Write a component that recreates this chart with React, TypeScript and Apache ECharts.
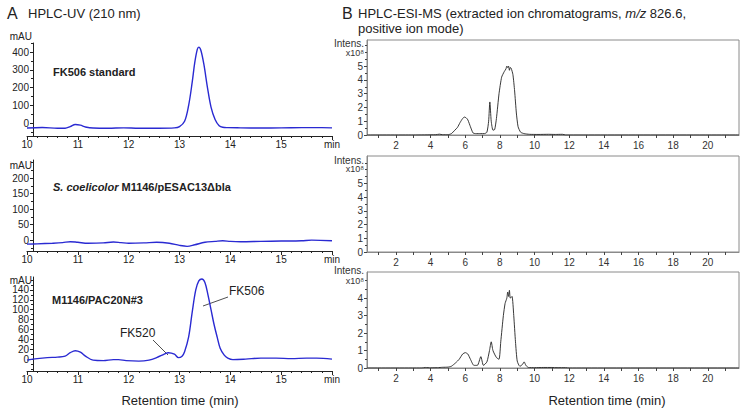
import React, { useEffect, useRef } from "react";
import * as echarts from "echarts";

// ---------- Panel A (HPLC-UV, 210 nm) ----------
const a1Time = [10.0, 10.3, 10.6, 10.75, 10.85, 10.95, 11.05, 11.15, 11.3, 11.6, 11.9, 12.2, 12.6, 12.9, 13.0, 13.1, 13.18, 13.25, 13.3, 13.35, 13.38, 13.42, 13.48, 13.55, 13.62, 13.7, 13.78, 13.85, 13.95, 14.2, 14.6, 15.0, 15.4, 15.8, 16.0];
const a1Abs = [-28, -25, -29, -29, -20, -8, -12, -22, -28, -29, -27, -29, -29, -27, -20, 10, 100, 230, 340, 415, 428, 410, 330, 200, 90, 20, -15, -24, -26, -27, -28, -27, -26, -26, -27];

const a2Time = [10.0, 10.2, 10.5, 10.7, 10.85, 11.0, 11.2, 11.5, 11.7, 11.85, 12.0, 12.3, 12.55, 12.8, 13.0, 13.15, 13.3, 13.5, 13.7, 13.85, 14.0, 14.2, 14.6, 15.0, 15.4, 15.6, 16.0];
const a2Abs = [-13, -12, -10, -8, -5, -7, -10, -9, -6, -8, -10, -9, -7, -10, -17, -20, -15, -7, -4, -2, -4, -5, -4, -3, -2, 0, -2];

const a3Time = [10.0, 10.2, 10.4, 10.6, 10.75, 10.85, 10.95, 11.05, 11.15, 11.3, 11.5, 11.7, 11.8, 11.95, 12.2, 12.4, 12.55, 12.7, 12.78, 12.9, 12.98, 13.05, 13.1, 13.18, 13.25, 13.32, 13.38, 13.44, 13.5, 13.56, 13.62, 13.68, 13.74, 13.8, 13.88, 13.95, 14.05, 14.3, 14.6, 14.9, 15.2, 15.5, 15.7, 16.0];
const a3Abs = [-2, 1, 3, 4, 6, 13, 17, 14, 6, -2, -3, -1, -1, -3, -4, -2, 3, 10, 13, 10, 3, 6, 15, 45, 95, 140, 158, 162, 155, 130, 100, 70, 45, 22, 8, 2, -1, 0, 2, 2, 1, 2, 2, 0];

const a1YLabels = [0, 100, 200, 300, 400];
const a1YMinor = [-50, 50, 150, 250, 350, 450];
const a2YLabels = [0, 50, 100, 150, 200];
const a2YMinor = [-25, 25, 75, 125, 175, 225, 250];
const a3YLabels = [0, 20, 40, 60, 80, 100, 120, 140];
const a3YMinor = [-20, -10, 10, 30, 50, 70, 90, 110, 130, 150, 160];

// ---------- Panel B (HPLC-ESI-MS, EIC m/z 826.6, x10^8) ----------
const b1Time = [0.33, 3.0, 4.3, 4.5, 4.7, 5.0, 5.2, 5.4, 5.55, 5.7, 5.85, 5.95, 6.05, 6.15, 6.3, 6.45, 6.6, 6.9, 7.1, 7.25, 7.35, 7.42, 7.5, 7.6, 7.7, 7.8, 7.95, 8.1, 8.25, 8.35, 8.4, 8.45, 8.5, 8.55, 8.6, 8.65, 8.75, 8.85, 8.95, 9.05, 9.2, 9.4, 9.7, 10.2, 10.8, 11.2, 11.6, 11.8, 21.8];
const b1Int = [0, 0, 0.02, 0.06, 0.02, 0.02, 0.1, 0.35, 0.55, 0.9, 1.2, 1.3, 1.25, 1.1, 0.6, 0.15, 0.1, 0.1, 0.1, 0.2, 1.0, 2.4, 1.0, 0.35, 0.4, 1.2, 3.0, 4.2, 4.6, 4.8, 5.0, 4.9, 5.0, 4.7, 4.9, 4.85, 4.4, 3.2, 1.6, 0.6, 0.2, 0.1, 0.05, 0.04, 0.05, 0.04, 0.05, 0, 0];

const b3Time = [0.33, 3.5, 3.7, 4.0, 4.4, 4.7, 5.0, 5.2, 5.45, 5.65, 5.85, 6.0, 6.15, 6.3, 6.5, 6.7, 6.9, 7.05, 7.25, 7.4, 7.5, 7.6, 7.8, 7.95, 8.05, 8.2, 8.3, 8.4, 8.45, 8.5, 8.55, 8.6, 8.7, 8.8, 8.9, 9.0, 9.15, 9.3, 9.4, 9.5, 9.65, 10.0, 10.5, 11.0, 11.3, 11.8, 12.0, 21.8];
const b3Int = [0, 0, 0.03, 0.01, 0.02, 0.04, 0.05, 0.1, 0.3, 0.5, 0.8, 0.88, 0.8, 0.5, 0.15, 0.15, 0.65, 0.15, 0.35, 1.0, 1.5, 1.0, 0.6, 0.5, 1.5, 3.0, 3.7, 4.0, 4.35, 4.1, 4.45, 4.0, 4.1, 3.0, 1.5, 0.4, 0.1, 0.2, 0.35, 0.15, 0.03, 0.02, 0.03, 0.03, 0.02, 0.02, 0, 0];

const bXLabels = [2, 4, 6, 8, 10, 12, 14, 16, 18, 20];
const bXTicks = [1, 2, 3, 4, 5, 6, 7, 8, 9, 10, 11, 12, 13, 14, 15, 16, 17, 18, 19, 20, 21];
const b12YLabels = [0, 1, 2, 3, 4, 5];
const b3YLabels = [0, 1, 2, 3, 4];
const b12YMinor = [0.5, 1.5, 2.5, 3.5, 4.5, 5.5, 6, 6.5];
const b3YMinor = [0.5, 1.5, 2.5, 3.5, 4.5, 5];

const FONT = "'Liberation Sans', Arial, sans-serif";
const BLUE = "#2a2ad2";
const AX = "#222";
const BOX = "#8a8a8a";

const pair = (t: number[], v: number[]) => t.map((x, i) => [x, v[i]]);

export default function App() {
  const ref = useRef<HTMLDivElement>(null);
  useEffect(() => {
    if (!ref.current) return;
    const chart = echarts.init(ref.current, null, { renderer: "svg" });

    const aGrids = [
      { left: 27, top: 43, width: 305, height: 93 },
      { left: 27, top: 160, width: 305, height: 91 },
      { left: 27, top: 277, width: 305, height: 94 },
    ];
    const bGrids = [
      { left: 367, top: 40, width: 372, height: 95 },
      { left: 367, top: 156, width: 372, height: 96 },
      { left: 367, top: 272, width: 372, height: 96 },
    ];
    const grid: any[] = [
      ...aGrids,
      ...bGrids.map((g) => ({ ...g, show: true, borderColor: BOX, borderWidth: 1, backgroundColor: "transparent" })),
    ];

    const aRanges = [
      { min: -73, max: 451, labels: a1YLabels, minor: a1YMinor },
      { min: -35, max: 258, labels: a2YLabels, minor: a2YMinor },
      { min: -24, max: 166, labels: a3YLabels, minor: a3YMinor },
    ];
    const bRanges = [
      { max: 6.9, labels: b12YLabels, minor: b12YMinor },
      { max: 7.0, labels: b12YLabels, minor: b12YMinor },
      { max: 5.5, labels: b3YLabels, minor: b3YMinor },
    ];

    const xAxis: any[] = [];
    const yAxis: any[] = [];
    aRanges.forEach((r, i) => {
      xAxis.push({
        type: "value", gridIndex: i, min: 10, max: 16, interval: 1, position: "bottom",
        axisLine: { show: true, onZero: false, lineStyle: { color: AX, width: 1 } },
        axisTick: { show: true, length: 4, lineStyle: { color: AX } },
        minorTick: { show: true, splitNumber: 5, length: 2, lineStyle: { color: AX } },
        axisLabel: { fontSize: 10, color: AX, fontFamily: FONT, margin: 3, formatter: (v: number) => (v === 16 ? "min" : String(v)) },
        splitLine: { show: false },
      });
      yAxis.push({
        type: "value", gridIndex: i, min: r.min, max: r.max, offset: -6, position: "left",
        axisLine: { show: true, onZero: false, lineStyle: { color: AX, width: 1 } },
        axisTick: { show: true, length: 3, customValues: r.labels, lineStyle: { color: AX } },
        axisLabel: { fontSize: 10, color: AX, fontFamily: FONT, margin: 4, customValues: r.labels },
        splitLine: { show: false },
      });
    });
    bRanges.forEach((r, i) => {
      const g = 3 + i;
      xAxis.push({
        type: "value", gridIndex: g, min: 0.33, max: 21.8, position: "bottom",
        axisLine: { show: true, onZero: false, lineStyle: { color: BOX, width: 1 } },
        axisTick: { show: true, length: 3, customValues: bXTicks, lineStyle: { color: "#444" } },
        axisLabel: { fontSize: 10, color: "#333", fontFamily: FONT, margin: 5, customValues: bXLabels },
        splitLine: { show: false },
      });
      yAxis.push({
        type: "value", gridIndex: g, min: 0, max: r.max, position: "left",
        axisLine: { show: true, onZero: false, lineStyle: { color: BOX, width: 1 } },
        axisTick: { show: true, length: 3, customValues: r.labels, lineStyle: { color: "#444" } },
        axisLabel: { fontSize: 10, color: "#333", fontFamily: FONT, margin: 4, customValues: r.labels },
        splitLine: { show: false },
      });
    });
    // minor tick overlays for the y axes
    aRanges.forEach((r, i) => {
      yAxis.push({
        type: "value", gridIndex: i, min: r.min, max: r.max, offset: -6, position: "left",
        axisLine: { show: false }, axisLabel: { show: false }, splitLine: { show: false },
        axisTick: { show: true, length: 2, customValues: r.minor, lineStyle: { color: AX } },
      });
    });
    bRanges.forEach((r, i) => {
      yAxis.push({
        type: "value", gridIndex: 3 + i, min: 0, max: r.max, position: "left",
        axisLine: { show: false }, axisLabel: { show: false }, splitLine: { show: false },
        axisTick: { show: true, length: 2, customValues: r.minor, lineStyle: { color: "#444" } },
      });
    });

    const aLine = (i: number, d: number[][]) => ({
      type: "line", xAxisIndex: i, yAxisIndex: i, data: d, showSymbol: false, smooth: 0.35,
      lineStyle: { color: BLUE, width: 1.4 }, silent: true,
    });
    const bLine = (i: number, d: number[][]) => ({
      type: "line", xAxisIndex: i, yAxisIndex: i, data: d, showSymbol: false, smooth: 0.2,
      lineStyle: { color: "#222", width: 0.9 }, silent: true,
    });

    const series: any[] = [
      aLine(0, pair(a1Time, a1Abs)),
      aLine(1, pair(a2Time, a2Abs)),
      aLine(2, pair(a3Time, a3Abs)),
      bLine(3, pair(b1Time, b1Int)),
      bLine(5, pair(b3Time, b3Int)),
    ];

    const txt = (x: number, y: number, text: string, extra: any = {}) => ({
      type: "text", x, y,
      style: { text, fontFamily: FONT, fontSize: 10, fill: AX, align: "left", verticalAlign: "middle", ...extra },
      silent: true,
    });

    const graphic: any[] = [
      txt(7, 13, "A", { fontSize: 16 }),
      txt(28, 13, "HPLC-UV (210 nm)", { fontSize: 13 }),
      txt(342, 13, "B", { fontSize: 16 }),
      {
        type: "text", x: 358, y: 13, silent: true,
        style: {
          text: "{n|HPLC-ESI-MS (extracted ion chromatograms, }{i|m/z}{n| 826.6,}",
          verticalAlign: "middle", align: "left",
          rich: {
            n: { fontFamily: FONT, fontSize: 13, fill: AX },
            i: { fontFamily: FONT, fontSize: 13, fontStyle: "italic", fill: AX },
          },
        },
      },
      txt(358, 28, "positive ion mode)", { fontSize: 13 }),
      txt(32, 36, "mAU", { align: "right" }),
      txt(32, 165, "mAU", { align: "right" }),
      txt(32, 280, "mAU", { align: "right" }),
      txt(53, 72, "FK506 standard", { fontSize: 11, fontWeight: "bold" }),
      {
        type: "text", x: 53, y: 187, silent: true,
        style: {
          text: "{i|S. coelicolor}{b| M1146/pESAC13\u0394bla}",
          verticalAlign: "middle", align: "left",
          rich: {
            i: { fontFamily: FONT, fontSize: 11, fontWeight: "bold", fontStyle: "italic", fill: AX },
            b: { fontFamily: FONT, fontSize: 11, fontWeight: "bold", fill: AX },
          },
        },
      },
      txt(52, 300, "M1146/PAC20N#3", { fontSize: 11, fontWeight: "bold" }),
      txt(229, 291, "FK506", { fontSize: 12 }),
      txt(120, 333, "FK520", { fontSize: 12 }),
      { type: "line", silent: true, shape: { x1: 203, y1: 306, x2: 228, y2: 297 }, style: { stroke: AX, lineWidth: 0.8 } },
      { type: "line", silent: true, shape: { x1: 153, y1: 340, x2: 168, y2: 355 }, style: { stroke: AX, lineWidth: 0.8 } },
      txt(180, 400, "Retention time (min)", { fontSize: 13, align: "center" }),
      txt(607, 400, "Retention time (min)", { fontSize: 13, align: "center" }),
      txt(364, 43, "Intens.", { align: "right", fill: "#333" }),
      txt(364, 53, "x10\u2078", { align: "right", fill: "#333", fontSize: 9 }),
      txt(364, 160, "Intens.", { align: "right", fill: "#333" }),
      txt(364, 169, "x10\u2078", { align: "right", fill: "#333", fontSize: 9 }),
      txt(364, 270, "Intens.", { align: "right", fill: "#333" }),
      txt(364, 281, "x10\u2078", { align: "right", fill: "#333", fontSize: 9 }),
    ];

    chart.setOption({
      animation: false,
      backgroundColor: "#fff",
      textStyle: { fontFamily: FONT },
      grid, xAxis, yAxis, series, graphic,
    });
    return () => chart.dispose();
  }, []);

  return <div ref={ref} style={{ position: "fixed", left: 0, top: 0, width: 743, height: 411 }} />;
}
